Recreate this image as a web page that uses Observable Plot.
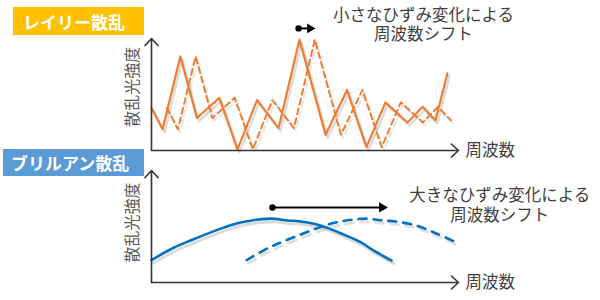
<!DOCTYPE html>
<html><head><meta charset="utf-8">
<script src="https://cdn.jsdelivr.net/npm/d3@7"></script>
<script src="https://cdn.jsdelivr.net/npm/@observablehq/plot@0.6"></script>
<style>
html,body{margin:0;padding:0;background:#fff;overflow:hidden;}
#wrap{position:relative;width:600px;height:300px;overflow:hidden;font-family:"Noto Sans CJK JP",sans-serif;}
#wrap svg{display:block;overflow:visible;position:absolute;left:0;}
.tag{position:absolute;color:#fff;font-weight:bold;font-size:17px;line-height:1;box-sizing:border-box;display:flex;align-items:center;white-space:nowrap;z-index:2;}
</style></head>
<body><div id="wrap"></div>
<script>
// ---- text ----
const rayleighTitle = "レイリー散乱";
const brillouinTitle = "ブリルアン散乱";
const yLabel = "散乱光強度";
const xLabel = "周波数";
const rayleighNoteLines = ["小さなひずみ変化による", "周波数シフト"];
const brillouinNoteLines = ["大きなひずみ変化による", "周波数シフト"];

// ---- Rayleigh spectrum (frequency 0-100, intensity 0-100) ----
const rayleighFreq = [0, 3.6, 9.4, 14.8, 22.1, 28.0, 34.4, 41.4, 48.2, 56.7, 63.7, 70.0, 76.2, 83.4, 88.3, 92.5, 96.4];
const rayleighIntensity = [38, 19, 84, 29, 47, 1, 45, 20, 99, 14, 54, 3, 43, 25, 39, 27, 69];
const rayleighShift = 5;          // small shift
const rayleighShiftedCount = 16;  // dashed copy drawn up to this point

// ---- Brillouin spectrum ----
const brillouinFreq = [0, 7.2, 12.7, 23.5, 29.0, 38.8, 44.3, 48.5, 55.0, 61.6, 68.1, 72.3, 78.2];
const brillouinIntensity = [20, 31, 37.5, 49, 53.6, 57, 55.4, 54.5, 51, 44, 36, 28.6, 19.6];
const brillouinShift = 31;        // large shift
const brillouinShiftedCount = 11;

// ---- shift arrows (start freq, y level) ----
const rayleighArrow = {x1: 47.9, x2: 51.6, y: 109};
const brillouinArrow = {x1: 39.4, x2: 75.1, y: 67};

// ---- annotation anchors (x, y of each line) ----
const rayleighNoteX = 88.6, rayleighNoteY = [120.5, 103];
const brillouinNoteX = 113.4, brillouinNoteY = [77.5, 59.8];
const yLabelPos = {upper: 57, lower: 53.6};
const xLabelX = 102.3;

const font = "'Noto Sans CJK JP', sans-serif";
const orange = "#ED7D31", blue = "#0070C0", axisColor = "#333";

function series(xs, ys, shift = 0, n = xs.length) {
  return xs.slice(0, n).map((x, i) => ({f: x + shift, v: ys[i]}));
}

function axesMarks() {
  return [
    Plot.arrow([0], {x1: 0, y1: 0, x2: 0, y2: 100, stroke: axisColor, strokeWidth: 1.6, headLength: 9, headAngle: 85}),
    Plot.arrow([0], {x1: 0, y1: 0, x2: 100, y2: 0, stroke: axisColor, strokeWidth: 1.6, headLength: 9, headAngle: 85})
  ];
}

function shiftArrow(a, size) {
  return [
    Plot.link([a], {x1: "x1", x2: "x2", y1: "y", y2: "y", stroke: "#000", strokeWidth: 2}),
    Plot.dot([a], {x: "x1", y: "y", r: 3.2, fill: "#000", stroke: null}),
    Plot.dot([a], {x: "x2", y: "y", r: size, fill: "#000", stroke: null, symbol: "triangle", rotate: 90})
  ];
}

function labels(yl) {
  return [
    Plot.text([yLabel], {x: 0, y: yl, text: d => d, rotate: -90, dx: -19, fontSize: 16, fill: "#595959"}),
    Plot.text([xLabel], {x: xLabelX, y: 0, text: d => d, textAnchor: "start", fontSize: 16.5, fill: "#404040"})
  ];
}

function note(lines, x, ys) {
  return Plot.text(lines.map((t, i) => ({t, y: ys[i]})), {x: () => x, y: "y", text: "t", fontSize: 16.5, fill: "#404040"});
}

const rSolid = series(rayleighFreq, rayleighIntensity);
const rDash = series(rayleighFreq, rayleighIntensity, rayleighShift, rayleighShiftedCount);
const bSolid = series(brillouinFreq, brillouinIntensity);
const bDash = series(brillouinFreq, brillouinIntensity, brillouinShift, brillouinShiftedCount);

const upperPlot = Plot.plot({
  width: 600, height: 152,
  marginTop: 38, marginBottom: 2, marginLeft: 151, marginRight: 142,
  x: {domain: [0, 100], axis: null},
  y: {domain: [0, 100], axis: null},
  style: {fontFamily: font, background: "transparent", overflow: "visible"},
  marks: [
    Plot.line(rSolid, {x: "f", y: "v", stroke: "#999", strokeOpacity: 0.35, strokeWidth: 2.5, dx: 2, dy: 3}),
    Plot.line(rDash, {x: "f", y: "v", stroke: "#999", strokeOpacity: 0.25, strokeWidth: 2, dx: 2, dy: 3, strokeDasharray: "6,4"}),
    Plot.line(rDash, {x: "f", y: "v", stroke: orange, strokeWidth: 2, strokeDasharray: "6,4"}),
    Plot.line(rSolid, {x: "f", y: "v", stroke: orange, strokeWidth: 2.2}),
    ...axesMarks(),
    ...labels(yLabelPos.upper),
    ...shiftArrow(rayleighArrow, 3.6),
    note(rayleighNoteLines, rayleighNoteX, rayleighNoteY)
  ]
});

const lowerPlot = Plot.plot({
  width: 600, height: 148,
  marginTop: 18, marginBottom: 18, marginLeft: 151, marginRight: 142,
  x: {domain: [0, 100], axis: null},
  y: {domain: [0, 100], axis: null},
  style: {fontFamily: font, background: "transparent", overflow: "visible"},
  marks: [
    Plot.line(bSolid, {x: "f", y: "v", curve: "catmull-rom", stroke: "#999", strokeOpacity: 0.35, strokeWidth: 3, dx: 2, dy: 3}),
    Plot.line(bDash, {x: "f", y: "v", curve: "catmull-rom", stroke: "#999", strokeOpacity: 0.3, strokeWidth: 3, dx: 2, dy: 3, strokeDasharray: "8,7"}),
    Plot.line(bDash, {x: "f", y: "v", curve: "catmull-rom", stroke: blue, strokeWidth: 2.6, strokeDasharray: "8,7"}),
    Plot.line(bSolid, {x: "f", y: "v", curve: "catmull-rom", stroke: blue, strokeWidth: 2.6}),
    ...axesMarks(),
    ...labels(yLabelPos.lower),
    ...shiftArrow(brillouinArrow, 3.8),
    note(brillouinNoteLines, brillouinNoteX, brillouinNoteY)
  ]
});

const wrap = document.getElementById("wrap");
upperPlot.style.top = "0px";
lowerPlot.style.top = "152px";
wrap.append(lowerPlot, upperPlot);

function tag(text, color, left, topPx, width, height, pad) {
  const d = document.createElement("div");
  d.className = "tag";
  d.textContent = text;
  Object.assign(d.style, {left: left + "px", top: topPx + "px", width: width + "px", height: height + "px", paddingLeft: pad + "px", background: color});
  wrap.append(d);
}
tag(rayleighTitle, "#FFC000", 13, 7, 131, 28, 10);
tag(brillouinTitle, "#5B9BD5", 3, 149, 141, 27, 8);
</script>
</body></html>
